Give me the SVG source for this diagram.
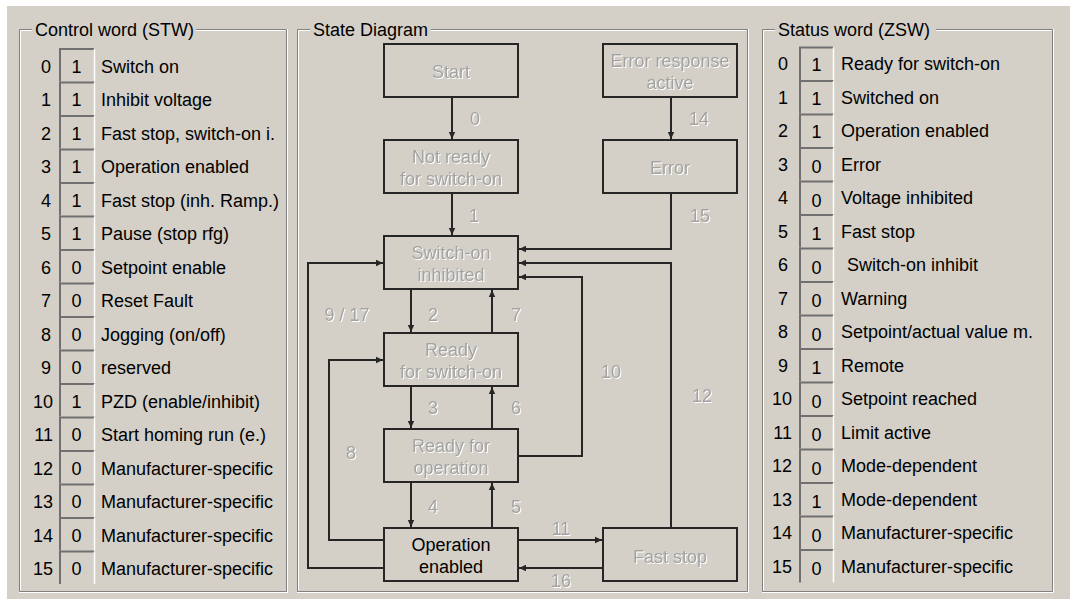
<svg xmlns="http://www.w3.org/2000/svg" width="1070" height="599" viewBox="0 0 1070 599">
<style>
text{font-family:"Liberation Sans",Arial,sans-serif;font-size:18px}
.lbl{fill:#000}
.num{fill:#000;text-anchor:end}
.dig{fill:#000;text-anchor:middle}
.ttl{fill:#000}
.dis{fill:#a2a2a2;text-anchor:middle;filter:url(#emb)}
.blk{fill:#000;text-anchor:middle}
.node{fill:#d4d0c8;stroke:#262626;stroke-width:2}
.con{fill:none;stroke:#262626;stroke-width:2}
.edk{fill:none;stroke:#808080;stroke-width:1}
.ewh{fill:none;stroke:#ffffff;stroke-width:1}
.bxd{fill:none;stroke:#707070;stroke-width:2}
.bxw{fill:none;stroke:#ffffff;stroke-width:1.5}
</style>
<defs>
<filter id="emb" x="-10%" y="-20%" width="120%" height="150%">
<feDropShadow dx="1" dy="1" stdDeviation="0" flood-color="#ffffff" flood-opacity="1"/>
</filter>
<marker id="arr" markerWidth="8" markerHeight="8" refX="7" refY="4" orient="auto" markerUnits="userSpaceOnUse">
<path d="M0,0.8 L7,4 L0,7.2 Z" fill="#262626"/>
</marker>
<g id="box">
<path class="bxd" d="M60,33.5 V1 H94"/>
<path class="bxw" d="M94.5,1 V33.5"/>
</g>
<g id="boxr">
<path class="bxd" d="M800,33.5 V1 H833"/>
<path class="bxw" d="M833.5,1 V33.5"/>
</g>
</defs>
<rect x="0" y="0" width="1070" height="599" fill="#ffffff"/>
<rect x="7" y="6" width="1063" height="593" fill="#d4d0c8"/>

<!-- Frames -->
<g id="frame-stw">
<path class="edk" d="M32,29.5 H19.5 V591.5 H286.5 V29.5 H196"/>
<path class="ewh" d="M32,30.5 H20.5 V590.5 M19,592.5 H287.5 V29 M287.5,30.5 M196,30.5 H285.5"/>
<text class="ttl" x="35" y="36">Control word (STW)</text>
</g>
<g id="frame-sd">
<path class="edk" d="M310,29.5 H297.5 V591.5 H747.5 V29.5 H431"/>
<path class="ewh" d="M310,30.5 H298.5 V590.5 M297,592.5 H748.5 V29 M431,30.5 H746.5"/>
<text class="ttl" x="313" y="36">State Diagram</text>
</g>
<g id="frame-zsw">
<path class="edk" d="M775,29.5 H762.5 V591.5 H1052.5 V29.5 H936"/>
<path class="ewh" d="M775,30.5 H763.5 V590.5 M762,592.5 H1053.5 V29 M936,30.5 H1051.5"/>
<text class="ttl" x="778" y="36">Status word (ZSW)</text>
</g>

<!-- Control word rows -->
<g id="stw-rows">
<g id="stw0" transform="translate(0,48)"><text class="num" x="51" y="24.5">0</text><use href="#box"/><text class="dig" x="76.5" y="24.5">1</text><text class="lbl" x="101" y="24.5">Switch on</text></g>
<g id="stw1" transform="translate(0,81.5)"><text class="num" x="51" y="24.5">1</text><use href="#box"/><text class="dig" x="76.5" y="24.5">1</text><text class="lbl" x="101" y="24.5">Inhibit voltage</text></g>
<g id="stw2" transform="translate(0,115)"><text class="num" x="51" y="24.5">2</text><use href="#box"/><text class="dig" x="76.5" y="24.5">1</text><text class="lbl" x="101" y="24.5">Fast stop, switch-on i.</text></g>
<g id="stw3" transform="translate(0,148.5)"><text class="num" x="51" y="24.5">3</text><use href="#box"/><text class="dig" x="76.5" y="24.5">1</text><text class="lbl" x="101" y="24.5">Operation enabled</text></g>
<g id="stw4" transform="translate(0,182)"><text class="num" x="51" y="24.5">4</text><use href="#box"/><text class="dig" x="76.5" y="24.5">1</text><text class="lbl" x="101" y="24.5">Fast stop (inh. Ramp.)</text></g>
<g id="stw5" transform="translate(0,215.5)"><text class="num" x="51" y="24.5">5</text><use href="#box"/><text class="dig" x="76.5" y="24.5">1</text><text class="lbl" x="101" y="24.5">Pause (stop rfg)</text></g>
<g id="stw6" transform="translate(0,249)"><text class="num" x="51" y="24.5">6</text><use href="#box"/><text class="dig" x="76.5" y="24.5">0</text><text class="lbl" x="101" y="24.5">Setpoint enable</text></g>
<g id="stw7" transform="translate(0,282.5)"><text class="num" x="51" y="24.5">7</text><use href="#box"/><text class="dig" x="76.5" y="24.5">0</text><text class="lbl" x="101" y="24.5">Reset Fault</text></g>
<g id="stw8" transform="translate(0,316)"><text class="num" x="51" y="24.5">8</text><use href="#box"/><text class="dig" x="76.5" y="24.5">0</text><text class="lbl" x="101" y="24.5">Jogging (on/off)</text></g>
<g id="stw9" transform="translate(0,349.5)"><text class="num" x="51" y="24.5">9</text><use href="#box"/><text class="dig" x="76.5" y="24.5">0</text><text class="lbl" x="101" y="24.5">reserved</text></g>
<g id="stw10" transform="translate(0,383)"><text class="num" x="53" y="24.5">10</text><use href="#box"/><text class="dig" x="76.5" y="24.5">1</text><text class="lbl" x="101" y="24.5">PZD (enable/inhibit)</text></g>
<g id="stw11" transform="translate(0,416.5)"><text class="num" x="53" y="24.5">11</text><use href="#box"/><text class="dig" x="76.5" y="24.5">0</text><text class="lbl" x="101" y="24.5">Start homing run (e.)</text></g>
<g id="stw12" transform="translate(0,450)"><text class="num" x="53" y="24.5">12</text><use href="#box"/><text class="dig" x="76.5" y="24.5">0</text><text class="lbl" x="101" y="24.5">Manufacturer-specific</text></g>
<g id="stw13" transform="translate(0,483.5)"><text class="num" x="53" y="24.5">13</text><use href="#box"/><text class="dig" x="76.5" y="24.5">0</text><text class="lbl" x="101" y="24.5">Manufacturer-specific</text></g>
<g id="stw14" transform="translate(0,517)"><text class="num" x="53" y="24.5">14</text><use href="#box"/><text class="dig" x="76.5" y="24.5">0</text><text class="lbl" x="101" y="24.5">Manufacturer-specific</text></g>
<g id="stw15" transform="translate(0,550.5)"><text class="num" x="53" y="24.5">15</text><use href="#box"/><text class="dig" x="76.5" y="24.5">0</text><text class="lbl" x="101" y="24.5">Manufacturer-specific</text></g>
</g>

<!-- Status word rows -->
<g id="zsw-rows">
<g id="zsw0" transform="translate(0,46.5)"><text class="num" x="788" y="23.5">0</text><use href="#boxr"/><text class="dig" x="816.5" y="24.5">1</text><text class="lbl" x="841" y="23.5">Ready for switch-on</text></g>
<g id="zsw1" transform="translate(0,80)"><text class="num" x="788" y="23.5">1</text><use href="#boxr"/><text class="dig" x="816.5" y="24.5">1</text><text class="lbl" x="841" y="23.5">Switched on</text></g>
<g id="zsw2" transform="translate(0,113.5)"><text class="num" x="788" y="23.5">2</text><use href="#boxr"/><text class="dig" x="816.5" y="24.5">1</text><text class="lbl" x="841" y="23.5">Operation enabled</text></g>
<g id="zsw3" transform="translate(0,147)"><text class="num" x="788" y="23.5">3</text><use href="#boxr"/><text class="dig" x="816.5" y="26">0</text><text class="lbl" x="841" y="23.5">Error</text></g>
<g id="zsw4" transform="translate(0,180.5)"><text class="num" x="788" y="23.5">4</text><use href="#boxr"/><text class="dig" x="816.5" y="26">0</text><text class="lbl" x="841" y="23.5">Voltage inhibited</text></g>
<g id="zsw5" transform="translate(0,214)"><text class="num" x="788" y="23.5">5</text><use href="#boxr"/><text class="dig" x="816.5" y="26">1</text><text class="lbl" x="841" y="23.5">Fast stop</text></g>
<g id="zsw6" transform="translate(0,247.5)"><text class="num" x="788" y="23.5">6</text><use href="#boxr"/><text class="dig" x="816.5" y="26">0</text><text class="lbl" x="847" y="23.5">Switch-on inhibit</text></g>
<g id="zsw7" transform="translate(0,281)"><text class="num" x="788" y="23.5">7</text><use href="#boxr"/><text class="dig" x="816.5" y="26">0</text><text class="lbl" x="841" y="23.5">Warning</text></g>
<g id="zsw8" transform="translate(0,314.5)"><text class="num" x="788" y="23.5">8</text><use href="#boxr"/><text class="dig" x="816.5" y="26">0</text><text class="lbl" x="841" y="23.5">Setpoint/actual value m.</text></g>
<g id="zsw9" transform="translate(0,348)"><text class="num" x="788" y="23.5">9</text><use href="#boxr"/><text class="dig" x="816.5" y="26">1</text><text class="lbl" x="841" y="23.5">Remote</text></g>
<g id="zsw10" transform="translate(0,381.5)"><text class="num" x="792" y="23.5">10</text><use href="#boxr"/><text class="dig" x="816.5" y="26">0</text><text class="lbl" x="841" y="23.5">Setpoint reached</text></g>
<g id="zsw11" transform="translate(0,415)"><text class="num" x="792" y="23.5">11</text><use href="#boxr"/><text class="dig" x="816.5" y="26">0</text><text class="lbl" x="841" y="23.5">Limit active</text></g>
<g id="zsw12" transform="translate(0,448.5)"><text class="num" x="792" y="23.5">12</text><use href="#boxr"/><text class="dig" x="816.5" y="26">0</text><text class="lbl" x="841" y="23.5">Mode-dependent</text></g>
<g id="zsw13" transform="translate(0,482)"><text class="num" x="792" y="23.5">13</text><use href="#boxr"/><text class="dig" x="816.5" y="26">1</text><text class="lbl" x="841" y="23.5">Mode-dependent</text></g>
<g id="zsw14" transform="translate(0,515.5)"><text class="num" x="792" y="23.5">14</text><use href="#boxr"/><text class="dig" x="816.5" y="26">0</text><text class="lbl" x="841" y="23.5">Manufacturer-specific</text></g>
<g id="zsw15" transform="translate(0,549)"><text class="num" x="792" y="23.5">15</text><use href="#boxr"/><text class="dig" x="816.5" y="26">0</text><text class="lbl" x="841" y="23.5">Manufacturer-specific</text></g>
</g>

<!-- Connectors -->
<g id="connectors">
<path class="con" marker-end="url(#arr)" d="M452,98 V139"/>
<path class="con" marker-end="url(#arr)" d="M671,98 V139"/>
<path class="con" marker-end="url(#arr)" d="M452,194 V235"/>
<path class="con" marker-end="url(#arr)" d="M671,194 V249 H519"/>
<path class="con" marker-end="url(#arr)" d="M671,527 V263 H519"/>
<path class="con" marker-end="url(#arr)" d="M519,456 H582 V277 H519"/>
<path class="con" marker-end="url(#arr)" d="M411,290 V332"/>
<path class="con" marker-end="url(#arr)" d="M492,332 V290"/>
<path class="con" marker-end="url(#arr)" d="M411,387 V428"/>
<path class="con" marker-end="url(#arr)" d="M492,428 V387"/>
<path class="con" marker-end="url(#arr)" d="M411,483 V527"/>
<path class="con" marker-end="url(#arr)" d="M492,527 V483"/>
<path class="con" marker-end="url(#arr)" d="M519,540 H602"/>
<path class="con" marker-end="url(#arr)" d="M602,568 H519"/>
<path class="con" marker-end="url(#arr)" d="M383,540 H329 V360 H383"/>
<path class="con" marker-end="url(#arr)" d="M383,568 H308 V263 H383"/>
<g id="connector-labels">
<text class="dis" x="475" y="125">0</text>
<text class="dis" x="699" y="125">14</text>
<text class="dis" x="474" y="222">1</text>
<text class="dis" x="700" y="222">15</text>
<text class="dis" x="347" y="321">9 / 17</text>
<text class="dis" x="433" y="321">2</text>
<text class="dis" x="516" y="321">7</text>
<text class="dis" x="611" y="378">10</text>
<text class="dis" x="702" y="402">12</text>
<text class="dis" x="433" y="414">3</text>
<text class="dis" x="516" y="414">6</text>
<text class="dis" x="351" y="459">8</text>
<text class="dis" x="433" y="513">4</text>
<text class="dis" x="516" y="513">5</text>
<text class="dis" x="561" y="535">11</text>
<text class="dis" x="561" y="587">16</text>
</g>
</g>

<!-- Nodes -->
<g id="n-start"><rect class="node" x="384" y="44" width="134" height="53"/><text class="dis" x="451" y="77.5">Start</text></g>
<g id="n-errresp"><rect class="node" x="603" y="44" width="134" height="53"/><text class="dis" x="670" y="67">Error response</text><text class="dis" x="670" y="88.5">active</text></g>
<g id="n-notready"><rect class="node" x="384" y="140" width="134" height="53"/><text class="dis" x="451" y="163">Not ready</text><text class="dis" x="451" y="184.5">for switch-on</text></g>
<g id="n-error"><rect class="node" x="603" y="140" width="134" height="53"/><text class="dis" x="670" y="173.5">Error</text></g>
<g id="n-soi"><rect class="node" x="384" y="236" width="134" height="53"/><text class="dis" x="451" y="259">Switch-on</text><text class="dis" x="451" y="280.5">inhibited</text></g>
<g id="n-rfs"><rect class="node" x="384" y="333" width="134" height="53"/><text class="dis" x="451" y="356">Ready</text><text class="dis" x="451" y="377.5">for switch-on</text></g>
<g id="n-rfo"><rect class="node" x="384" y="429" width="134" height="53"/><text class="dis" x="451" y="452">Ready for</text><text class="dis" x="451" y="473.5">operation</text></g>
<g id="n-opena"><rect class="node" x="384" y="528" width="134" height="53"/><text class="blk" x="451" y="551">Operation</text><text class="blk" x="451" y="572.5">enabled</text></g>
<g id="n-faststop"><rect class="node" x="603" y="528" width="134" height="53"/><text class="dis" x="670" y="562.5">Fast stop</text></g>
</svg>
